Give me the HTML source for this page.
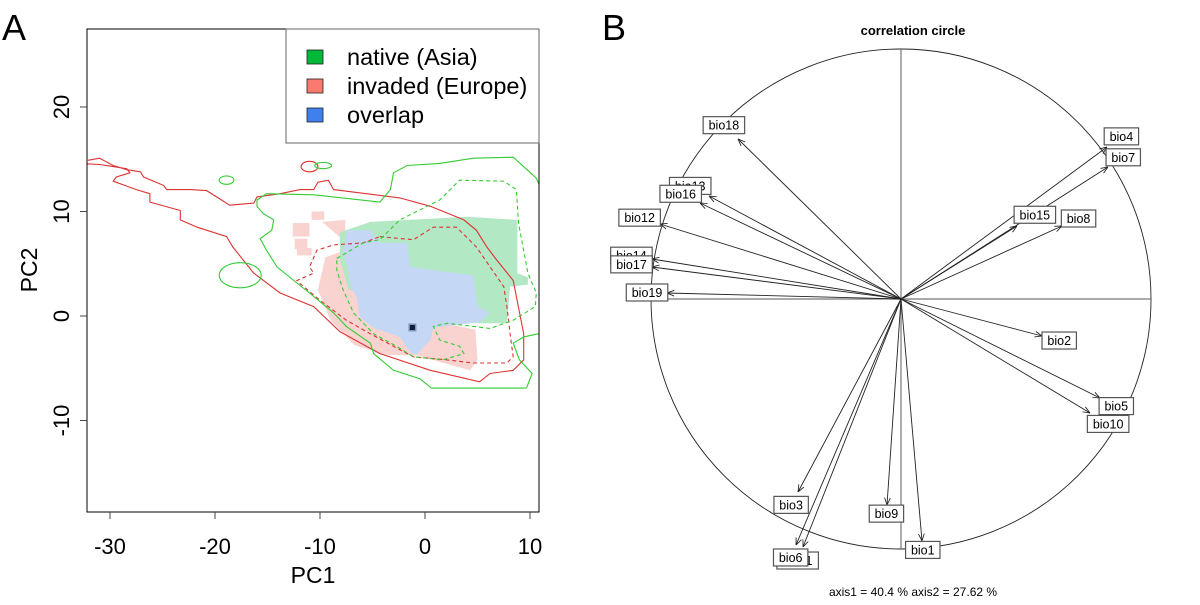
<!DOCTYPE html>
<html><head><meta charset="utf-8"><style>
html,body{margin:0;padding:0;background:#fff}
svg text{font-family:"Liberation Sans",Arial,sans-serif}
</style></head><body>
<svg id="s" width="1200" height="600" viewBox="0 0 1200 600" xmlns="http://www.w3.org/2000/svg">
<defs><clipPath id="clipA"><rect x="87" y="29" width="452" height="483"/></clipPath>
<marker id="ah" viewBox="0 0 10 10" refX="10" refY="5" markerWidth="8" markerHeight="8" orient="auto"><path d="M0,1 L10,5 L0,9" fill="none" stroke="#222" stroke-width="1.2"/></marker></defs>
<text x="14" y="40" font-size="36" text-anchor="middle">A</text>
<text x="614" y="40" font-size="36" text-anchor="middle">B</text>
<g id="pa"></g>
<g id="pb"></g>
</svg>
<script>
// ---------- Panel A data (PC1, PC2 in data units) ----------
const xTicks=[-30,-20,-10,0,10];
const yTicks=[-10,0,10,20];
const greenFill=[[-8.1,8.0],[-5.2,9.0],[4.0,9.5],[8.8,9.2],[8.8,4.1],[9.8,3.7],[9.8,3.0],[8.1,2.8],[7.8,-0.7],[5.2,-0.7],[2.4,-0.4],[-0.5,-0.2],[-2.4,1.5],[-7.3,2.5],[-8.1,5.4]];
const pinkFill=[[-9.8,9.0],[-7.6,9.2],[-7.6,6.3],[-9.5,5.6],[-10.2,2.5],[-9.0,-0.4],[-6.7,-2.8],[-3.8,-3.7],[-0.5,-3.8],[1.4,-4.4],[4.3,-5.2],[5.0,-4.2],[4.8,-1.3],[1.4,-0.6]];
const pinkBlocks=[[-12.6,8.9,1.6,1.3],[-12.4,7.4,1.2,1.0],[-10.8,10.0,1.2,0.8],[-12.2,6.5,1.4,0.7]];
const blueFill=[[-7.4,8.2],[-5.2,8.2],[-4.3,7.0],[-1.7,7.0],[-1.4,4.7],[2.1,4.2],[4.6,3.9],[5.0,0.9],[6.2,0.3],[5.2,-0.6],[0.8,-1.1],[0.5,-2.3],[-0.8,-3.7],[-1.4,-3.5],[-2.4,-2.0],[-5.0,-1.1],[-6.2,-0.1],[-6.5,1.8],[-7.1,2.8],[-7.4,4.7],[-7.8,6.3]];
const peak=[-1.2,-1.1];
const redSolid=[[-32.1,14.9],[-31.0,15.1],[-29.7,14.4],[-28.4,14.0],[-27.1,13.8],[-26.8,13.3],[-24.9,12.5],[-24.6,12.1],[-22.4,12.1],[-20.8,12.0],[-18.6,10.6],[-16.3,10.8],[-16.0,11.4],[-13.8,11.7],[-11.9,12.1],[-10.6,12.1],[-10.2,12.8],[-9.2,13.0],[-8.7,12.1],[-5.6,11.7],[-2.4,11.3],[0.5,10.5],[3.7,9.2],[4.9,8.2],[5.9,6.6],[6.8,5.4],[8.4,3.4],[9.4,-1.7],[9.4,-4.2],[8.4,-5.2],[6.2,-5.5],[5.2,-6.3],[0.5,-5.2],[-4.3,-3.6],[-8.1,-1.5],[-10.6,0.9],[-13.8,2.2],[-16.3,4.1],[-18.3,6.6],[-18.9,7.6],[-21.7,8.5],[-23.3,9.2],[-23.3,10.1],[-26.2,10.9],[-26.2,11.7],[-27.5,12.1],[-29.7,12.9],[-29.4,13.3],[-28.1,13.7],[-28.4,14.1],[-29.7,14.3],[-31.0,14.5],[-33,14.6]];
const redDashed=[[-4.3,7.6],[-1.1,7.3],[0.8,8.5],[3.0,8.5],[4.9,6.6],[6.2,4.7],[7.5,2.8],[7.8,0.9],[8.1,-1.7],[8.4,-3.9],[7.8,-4.5],[4.6,-4.5],[2.1,-4.2],[-1.1,-3.9],[-3.0,-2.9],[-5.2,-1.7],[-7.5,-0.4],[-10.0,1.5],[-11.9,3.1],[-12.2,3.4],[-10.6,4.1],[-11.0,4.7],[-10.3,6.3],[-8.7,6.8],[-5.9,7.0]];
const greenSolid=[[-16.0,11.1],[-15.1,11.7],[-10.6,11.6],[-4.3,10.9],[-3.3,12.1],[-3.0,13.7],[-1.7,14.4],[1.4,14.6],[4.6,15.1],[8.4,15.2],[10.6,13.2],[12,10],[12,-1.5],[10.8,-1.7],[9.4,-2.0],[8.4,-2.6],[9.0,-4.2],[10.2,-5.5],[9.7,-6.8],[9.6,-6.9],[0.6,-6.9],[0.5,-6.8],[-0.5,-6.0],[-3.0,-5.2],[-4.9,-3.6],[-5.2,-2.6],[-7.5,-1.0],[-8.7,0.3],[-11.0,2.2],[-12.5,3.4],[-14.1,4.7],[-15.1,6.3],[-15.7,7.4],[-14.6,8.2],[-14.4,9.2],[-15.4,9.8],[-16.0,10.5]];
const greenDashed=[[-8.4,5.5],[-5.9,7.0],[-4.3,7.3],[-2.4,9.2],[1.4,11.1],[3.3,13.0],[7.5,12.9],[8.7,12.1],[8.9,8.9],[9.8,4.1],[10.6,2.2],[10.5,0.9],[8.4,-0.4],[6.2,-1.2],[2.1,-0.7],[0.8,-1.0],[1.4,-2.3],[3.3,-2.9],[3.7,-3.6],[1.7,-4.2],[-1.1,-3.9],[-2.7,-2.9],[-4.9,-1.7],[-6.8,0.3],[-7.8,2.5],[-8.4,4.4]];
const smallLoops=[["#dd3333",-11.0,14.3,0.8,0.5],["#33cc33",-18.9,13.0,0.7,0.4],["#33cc33",-9.7,14.4,0.8,0.3],["#33cc33",-17.6,3.9,2.0,1.2]];
const legendLabels=["native (Asia)","invaded (Europe)","overlap"];
const legendColors=["#00b83a","#fa7a70","#4080ee"];

// ---------- Panel B data (correlations) ----------
const vars=["bio1","bio2","bio3","bio4","bio5","bio7","bio8","bio9","bio10","bio11","bio6","bio12","bio13","bio16","bio14","bio17","bio15","bio18","bio19"];
const corX=[0.084,0.564,-0.412,0.824,0.796,0.828,0.644,-0.056,0.756,-0.392,-0.42,-0.964,-0.768,-0.804,-0.996,-0.996,0.464,-0.652,-0.936];
const corY=[-0.968,-0.148,-0.772,0.608,-0.396,0.528,0.292,-0.824,-0.456,-0.992,-0.984,0.3,0.412,0.384,0.16,0.128,0.292,0.64,0.024];

const NS="http://www.w3.org/2000/svg";
function mk(tag,attrs,parent){const e=document.createElementNS(NS,tag);for(const k in attrs)e.setAttribute(k,attrs[k]);parent.appendChild(e);return e;}
const sx=v=>425+v*10.5, sy=v=>316-v*10.45;
const pts=a=>a.map(p=>sx(p[0]).toFixed(1)+","+sy(p[1]).toFixed(1)).join(" ");
const pa=document.getElementById('pa');
const clip=mk('g',{'clip-path':'url(#clipA)'},pa);


let e;
e=mk('polygon',{points:pts(pinkFill),fill:'#f9d3d0'},clip);


pinkBlocks.forEach(b=>{const r=mk('rect',{x:sx(b[0]),y:sy(b[1]),width:b[2]*10.5,height:b[3]*10.45,fill:'#f9d3d0'},clip);

});
e=mk('polygon',{points:pts(greenFill),fill:'#b3e8c4'},clip);


e=mk('polygon',{points:pts(blueFill),fill:'#c4d7f5'},clip);


e=mk('rect',{x:sx(peak[0])-4,y:sy(peak[1])-4,width:8,height:8,fill:'#7f95bd'},clip);


e=mk('rect',{x:sx(peak[0])-2.5,y:sy(peak[1])-2.5,width:5,height:5,fill:'#101c3a'},clip);


e=mk('polyline',{points:pts(redSolid),fill:'none',stroke:'#dd3333','stroke-width':1.1},clip);


e=mk('polygon',{points:pts(redDashed),fill:'none',stroke:'#dd3333','stroke-width':1.1,'stroke-dasharray':'4,3'},clip);


e=mk('polygon',{points:pts(greenSolid),fill:'none',stroke:'#33cc33','stroke-width':1.1},clip);


e=mk('polygon',{points:pts(greenDashed),fill:'none',stroke:'#33cc33','stroke-width':1.1,'stroke-dasharray':'4,3'},clip);


smallLoops.forEach(l=>{const c=mk('ellipse',{cx:sx(l[1]),cy:sy(l[2]),rx:l[3]*10.5,ry:l[4]*10.45,fill:'none',stroke:l[0],'stroke-width':1.1},clip);

});
e=mk('rect',{x:87,y:29,width:452,height:483,fill:'none',stroke:'#000','stroke-width':1},pa);


xTicks.forEach(t=>{const l=mk('line',{x1:sx(t),x2:sx(t),y1:512,y2:519,stroke:'#444'},pa);


const tx=mk('text',{x:sx(t),y:554,'font-size':22,'text-anchor':'middle'},pa);tx.textContent=t;

});
yTicks.forEach(t=>{const l=mk('line',{x1:80,x2:87,y1:sy(t),y2:sy(t),stroke:'#444'},pa);


const tx=mk('text',{x:0,y:0,'font-size':22,'text-anchor':'middle',transform:`translate(69,${sy(t)}) rotate(-90)`},pa);tx.textContent=t;

});
e=mk('text',{x:313,y:583,'font-size':23,'text-anchor':'middle'},pa);e.textContent='PC1';


e=mk('text',{x:0,y:0,'font-size':23,'text-anchor':'middle',transform:'translate(37,270) rotate(-90)'},pa);e.textContent='PC2';


const lg=mk('g',{},pa);


mk('rect',{x:286,y:29,width:253,height:114,fill:'#fff',stroke:'#666','stroke-width':1},lg);
legendLabels.forEach((s,i)=>{const y=57+i*29;
const r=mk('rect',{x:307,y:y-7,width:16,height:14,fill:legendColors[i],stroke:'#222','stroke-width':0.8},lg);


const t=mk('text',{x:347,y:y+8,'font-size':23.5},lg);t.textContent=s;

});

// ---------- Panel B ----------
const pb=document.getElementById('pb');
const cx=901,cy=299,R=250;
const bx=v=>cx+v*R, by=v=>cy-v*R;
e=mk('circle',{cx:cx,cy:cy,r:R,fill:'none',stroke:'#222','stroke-width':0.9},pb);


e=mk('line',{x1:cx,x2:cx,y1:cy-R,y2:cy+R,stroke:'#777','stroke-width':1.2},pb);


e=mk('line',{x1:cx-R,x2:cx+R,y1:cy,y2:cy,stroke:'#777','stroke-width':1.2},pb);


vars.forEach((v,i)=>{const a=mk('line',{x1:cx,y1:cy,x2:bx(corX[i]),y2:by(corY[i]),stroke:'#222','stroke-width':0.9,'marker-end':'url(#ah)'},pb);

});
vars.forEach((v,i)=>{const tx=bx(corX[i]),ty=by(corY[i]);const w=v.length*7.1+6,h=17;
const L=Math.hypot(corX[i],corY[i]);const ux=corX[i]/L,uy=-corY[i]/L;
const off=(w/2)*Math.abs(ux)+(h/2)*Math.abs(uy)-1;
const lx=tx+ux*off,ly=ty+uy*off;
const g=mk('g',{},pb);


mk('rect',{x:lx-w/2,y:ly-h/2,width:w,height:h,fill:'#fff',stroke:'#555','stroke-width':1.2},g);
const t=mk('text',{x:lx,y:ly+4.5,'font-size':12.5,'text-anchor':'middle'},g);t.textContent=v;});
e=mk('text',{x:913,y:35,'font-size':13,'font-weight':'bold','text-anchor':'middle'},pb);e.textContent='correlation circle';


e=mk('text',{x:913,y:596,'font-size':12,'text-anchor':'middle'},pb);e.textContent='axis1 =  40.4 % axis2 =  27.62 %';


</script>
</body></html>
